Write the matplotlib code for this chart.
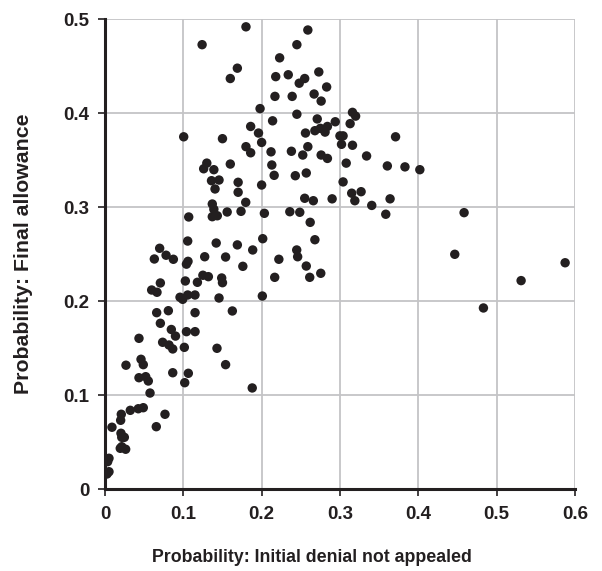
import matplotlib
matplotlib.use('Agg')
import matplotlib.pyplot as plt

# probability that an initial denial is not appealed, per unit
denial_not_appealed = [
    0.180, 0.124, 0.169, 0.160, 0.198, 0.186, 0.196, 0.200, 0.1005, 0.150,
    0.180, 0.186, 0.130, 0.126, 0.139, 0.160,
    0.259, 0.245, 0.223, 0.218, 0.234, 0.248, 0.255, 0.273, 0.283, 0.217,
    0.239, 0.267, 0.276, 0.245, 0.214, 0.271, 0.316, 0.320, 0.294, 0.313,
    0.284, 0.275, 0.268, 0.281, 0.256, 0.300, 0.304, 0.302, 0.316, 0.371,
    0.259, 0.212, 0.238, 0.2525, 0.276, 0.284, 0.334, 0.213, 0.308, 0.3605,
    0.383, 0.402, 0.216, 0.243, 0.257,
    0.200, 0.304, 0.315, 0.327, 0.319, 0.255, 0.266, 0.290, 0.3406, 0.364,
    0.3585, 0.2035, 0.236, 0.2487, 0.262, 0.2014, 0.268, 0.2448, 0.246, 0.222,
    0.257, 0.2755, 0.2614, 0.2167, 0.2009,
    0.136, 0.1456, 0.170, 0.1405, 0.170, 0.1797, 0.137, 0.139, 0.137, 0.1434,
    0.156, 0.1737, 0.1069, 0.1056, 0.142, 0.169, 0.1886, 0.0698, 0.063, 0.078,
    0.0873, 0.104, 0.106, 0.1273, 0.154, 0.176, 0.125, 0.132, 0.149, 0.150,
    0.1026, 0.118, 0.0707, 0.0596, 0.0664, 0.0958, 0.0992, 0.1056, 0.1149, 0.1456,
    0.066, 0.0809, 0.115, 0.1626, 0.0707, 0.0847, 0.090, 0.104, 0.115, 0.0434,
    0.0736, 0.0817, 0.0865, 0.1013, 0.143, 0.0268, 0.046, 0.0489, 0.154, 0.0865,
    0.1064, 0.0434, 0.052, 0.0553, 0.1018, 0.188, 0.0575, 0.0489, 0.0425, 0.0323,
    0.0208, 0.020, 0.0766, 0.0089, 0.0655, 0.0204, 0.0247, 0.0214, 0.0214, 0.0264,
    0.0195, 0.0051, 0.0034, 0.0051, 0.0026,
    0.4585, 0.4466, 0.5875, 0.5313, 0.4832,
]

# probability of final allowance, same units
final_allowance = [
    0.492, 0.473, 0.448, 0.437, 0.405, 0.386, 0.379, 0.369, 0.375, 0.373,
    0.3645, 0.358, 0.347, 0.341, 0.340, 0.346,
    0.4886, 0.473, 0.459, 0.439, 0.441, 0.432, 0.437, 0.444, 0.428, 0.418,
    0.418, 0.4205, 0.413, 0.399, 0.392, 0.394, 0.401, 0.397, 0.391, 0.389,
    0.386, 0.384, 0.3815, 0.380, 0.379, 0.376, 0.376, 0.367, 0.366, 0.375,
    0.3645, 0.359, 0.3596, 0.3556, 0.3556, 0.352, 0.3546, 0.345, 0.347, 0.344,
    0.343, 0.340, 0.334, 0.3336, 0.3365,
    0.3237, 0.327, 0.315, 0.3166, 0.307, 0.3096, 0.307, 0.309, 0.302, 0.309,
    0.2926, 0.2936, 0.2953, 0.2947, 0.284, 0.2666, 0.2655, 0.2546, 0.2474, 0.2447,
    0.2375, 0.2298, 0.2255, 0.2255, 0.2056,
    0.3283, 0.329, 0.3266, 0.3195, 0.316, 0.3053, 0.3035, 0.2979, 0.290, 0.291,
    0.295, 0.2957, 0.2897, 0.2641, 0.262, 0.260, 0.2546, 0.2564, 0.245, 0.249,
    0.2447, 0.2395, 0.2425, 0.2474, 0.2471, 0.2372, 0.2277, 0.2262, 0.2248, 0.2198,
    0.2216, 0.2202, 0.2195, 0.212, 0.2096, 0.2043, 0.2021, 0.2067, 0.2067, 0.2035,
    0.1879, 0.190, 0.1879, 0.1897, 0.1766, 0.170, 0.163, 0.1677, 0.1677, 0.1606,
    0.1564, 0.1535, 0.1493, 0.151, 0.150, 0.132, 0.1383, 0.1326, 0.1326, 0.124,
    0.1234, 0.1187, 0.1198, 0.1152, 0.1134, 0.1078, 0.1024, 0.0868, 0.0857, 0.084,
    0.0798, 0.0734, 0.0798, 0.066, 0.0666, 0.0596, 0.0553, 0.0553, 0.0453, 0.0426,
    0.0436, 0.033, 0.0294, 0.0187, 0.0163,
    0.2943, 0.250, 0.241, 0.222, 0.1929,
]

x_ticks = [0, 0.1, 0.2, 0.3, 0.4, 0.5, 0.6]
x_labels = ['0', '0.1', '0.2', '0.3', '0.4', '0.5', '0.6']
y_ticks = [0, 0.1, 0.2, 0.3, 0.4, 0.5]
y_labels = ['0', '0.1', '0.2', '0.3', '0.4', '0.5']

plt.rcParams['font.family'] = ['Liberation Sans', 'DejaVu Sans']

fig = plt.figure(figsize=(6.02, 5.71), dpi=100)
ax = fig.add_axes([0.1744, 0.1431, 0.7806, 0.8231])

# grid first so dots sit on top
ax.set_axisbelow(True)
ax.grid(True, color='#c4c4c6', linewidth=1.3)

ax.scatter(denial_not_appealed, final_allowance, s=46, color='#231f20',
           edgecolors='none', zorder=3)

ax.set_xlim(0, 0.6)
ax.set_ylim(0, 0.5)
ax.set_xticks(x_ticks)
ax.set_xticklabels(x_labels)
ax.set_yticks(y_ticks)
ax.set_yticklabels(y_labels)

for side in ['top', 'right']:
    ax.spines[side].set_visible(False)
for side in ['left', 'bottom']:
    ax.spines[side].set_linewidth(2.2)
    ax.spines[side].set_color('#231f20')

ax.tick_params(axis='both', labelsize=13.5, width=1.2, length=5,
               direction='out', color='#231f20', labelcolor='#231f20')
ax.tick_params(axis='x', pad=7)
ax.tick_params(axis='y', pad=6)
for lab in ax.get_xticklabels() + ax.get_yticklabels():
    lab.set_fontweight('bold')

ax.set_xlabel('Probability: Initial denial not appealed', fontsize=12.8,
              fontweight='bold', color='#231f20')
ax.set_ylabel('Probability: Final allowance', fontsize=15.3,
              fontweight='bold', color='#231f20')
ax.xaxis.set_label_coords(0.44, -0.128)
ax.yaxis.set_label_coords(-0.153, 0.502)

plt.savefig('out.png', dpi=100)
